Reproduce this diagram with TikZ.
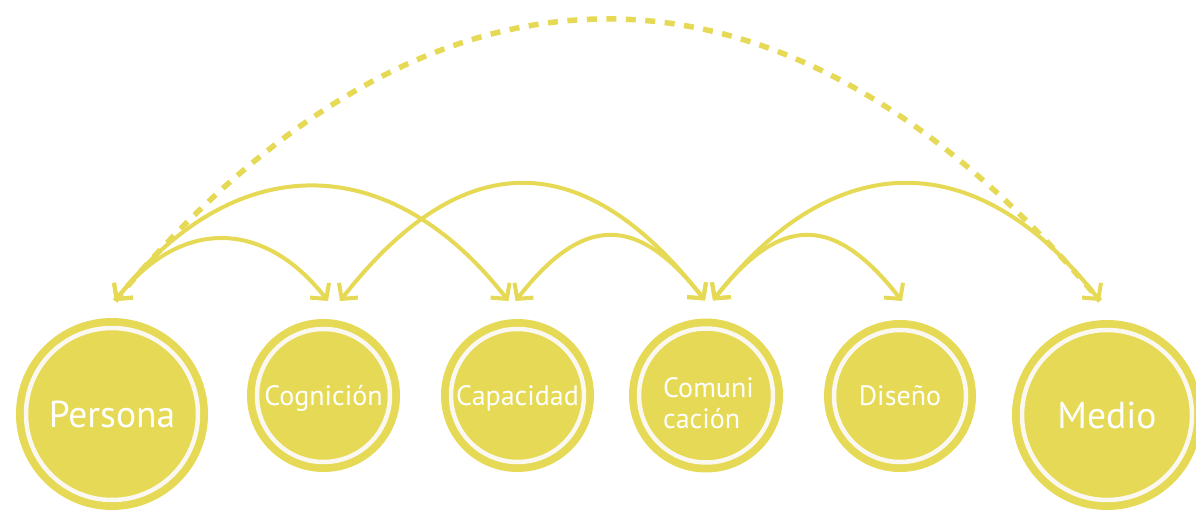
\documentclass[tikz,border=0pt]{standalone}
\usepackage{fontspec}
\setmainfont{PT Sans}
\usetikzlibrary{arrows.meta,calc}
\definecolor{ylw}{HTML}{E6D955}
\definecolor{ring}{HTML}{FAF8F0}
\begin{document}
\begin{tikzpicture}[x=1pt,y=1pt,
  bub/.style={circle, fill=ylw, draw=none, inner sep=0pt, outer sep=0pt, minimum size=#1, text=white,
     path picture={\draw[ring, line width=4.5pt] (path picture bounding box.center) circle[radius={#1/2-10pt}];}},
  big/.style={font=\fontsize{37.5}{42}\selectfont, text height=26pt, text depth=0pt},
  small/.style={font=\fontsize{28}{32}\selectfont, text height=19.5pt, text depth=0pt},
  txt/.style={text=white, inner sep=0pt, font=\fontsize{28}{32}\selectfont},
  >={Straight Barb[length=11pt,width=24pt]},
  arc/.style={draw=ylw, line width=4pt, <->},
  dasharc/.style={draw=ylw, line width=5.5pt, dash pattern=on 10pt off 9.5pt}]
\useasboundingbox (0,0) rectangle (1196,509);
\clip (0,0) rectangle (1196,509);

\node[bub=192pt, big] (per) at (112,95) {Persona};
\node[bub=153pt, small] (cog) at (323.5,113.5) {Cognición};
\node[bub=153pt, small] (cap) at (517.5,113.5) {Capacidad};
\node[bub=154pt] (com) at (706,113.5) {};
\node[txt, anchor=base west] (com1) at ([xshift=-43pt,yshift=-1.5pt]com.center) {Comuni};
\node[txt, anchor=base west] (com2) at ([xshift=-43pt,yshift=-32.5pt]com.center) {cación};
\node[bub=152pt, small] (dis) at (900,113) {Diseño};
\node[bub=190pt, big] (med) at (1107,94) {Medio};

\coordinate (perT) at ([xshift=3pt,yshift=17pt]per.north);
\coordinate (cogL) at ([xshift=4.5pt,yshift=18pt]cog.north);
\coordinate (cogR) at ([xshift=16.5pt,yshift=18pt]cog.north);
\coordinate (capL) at ([xshift=-9pt,yshift=18pt]cap.north);
\coordinate (capR) at ([xshift=-2pt,yshift=18pt]cap.north);
\coordinate (comL) at ([xshift=-1pt,yshift=18pt]com.north);
\coordinate (comR) at ([xshift=7pt,yshift=18pt]com.north);
\coordinate (disT) at ([xshift=2pt,yshift=19pt]dis.north);
\coordinate (medT) at ([xshift=-7pt,yshift=19pt]med.north);

\draw[dasharc] (perT) .. controls +(50:491) and +(130:491) .. (medT);
\draw[arc] (perT) .. controls +(52:105) and +(128:105) .. (cogL);
\draw[arc] (perT) .. controls +(52:194) and +(128:194) .. (capL);
\draw[arc] (cogR) .. controls +(52:198) and +(128:198) .. (comL);
\draw[arc] (capR) .. controls +(52:110) and +(128:110) .. (comL);
\draw[arc] (comR) .. controls +(52:110) and +(128:110) .. (disT);
\draw[arc] (comR) .. controls +(52:198) and +(128:198) .. (medT);
\end{tikzpicture}
\end{document}
